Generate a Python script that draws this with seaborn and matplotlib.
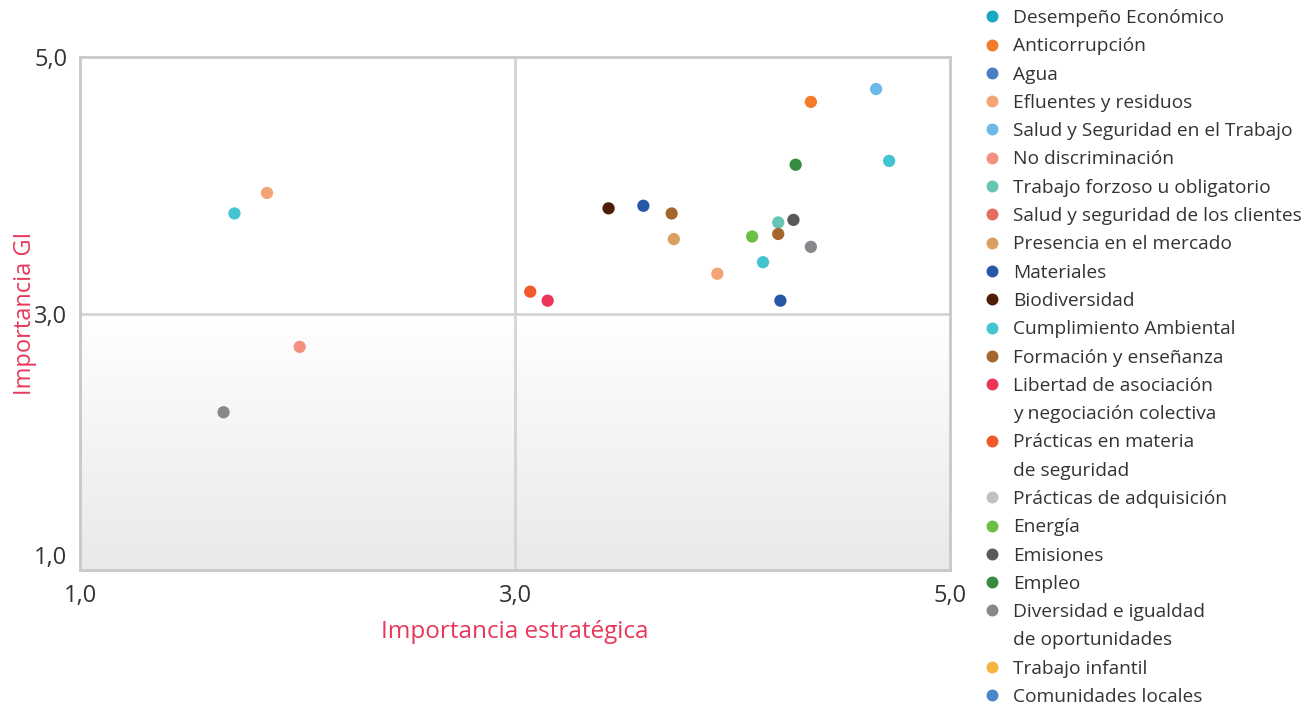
import numpy as np
import pandas as pd
import seaborn as sns
import matplotlib.pyplot as plt
from matplotlib.lines import Line2D
from matplotlib.colors import LinearSegmentedColormap

# Temas GRI (orden de la leyenda) y sus colores
temas = [
    'Desempeño Económico', 'Anticorrupción', 'Agua', 'Efluentes y residuos',
    'Salud y Seguridad en el Trabajo', 'No discriminación',
    'Trabajo forzoso u obligatorio', 'Salud y seguridad de los clientes',
    'Presencia en el mercado', 'Materiales', 'Biodiversidad',
    'Cumplimiento Ambiental', 'Formación y enseñanza',
    'Libertad de asociación\ny negociación colectiva',
    'Prácticas en materia\nde seguridad', 'Prácticas de adquisición',
    'Energía', 'Emisiones', 'Empleo',
    'Diversidad e igualdad\nde oportunidades', 'Trabajo infantil',
    'Comunidades locales',
]
colores = [
    '#17a9c0', '#f47b2a', '#4a7fc3', '#f4a473', '#6cb8e8', '#f49080',
    '#66c6b5', '#e56d5d', '#dc9f62', '#2857a8', '#4f1d05', '#43c4d0',
    '#a5662d', '#ee3559', '#f15a2b', '#c0c1c4', '#6bbf45', '#58595b',
    '#378b40', '#87888c', '#f6b440', '#4a86c8',
]

# Puntos: tema, importancia estrategica (x), importancia GI (y)
puntos_tema = [
    'Cumplimiento Ambiental', 'Efluentes y residuos', 'No discriminación',
    'Diversidad e igualdad\nde oportunidades',
    'Prácticas en materia\nde seguridad',
    'Libertad de asociación\ny negociación colectiva',
    'Biodiversidad', 'Materiales', 'Formación y enseñanza',
    'Presencia en el mercado', 'Efluentes y residuos', 'Energía',
    'Cumplimiento Ambiental', 'Trabajo forzoso u obligatorio',
    'Formación y enseñanza', 'Emisiones', 'Materiales', 'Empleo',
    'Diversidad e igualdad\nde oportunidades', 'Anticorrupción',
    'Salud y Seguridad en el Trabajo', 'Cumplimiento Ambiental',
]
puntos_x = [1.71, 1.86, 2.01, 1.66, 3.07, 3.15, 3.43, 3.59, 3.72, 3.73,
            3.93, 4.09, 4.14, 4.21, 4.21, 4.28, 4.22, 4.29, 4.36, 4.36,
            4.66, 4.72]
puntos_y = [3.78, 3.94, 2.74, 2.23, 3.17, 3.10, 3.82, 3.84, 3.78, 3.58,
            3.31, 3.60, 3.40, 3.71, 3.62, 3.73, 3.10, 4.16, 3.52, 4.65,
            4.75, 4.19]

df = pd.DataFrame({'tema': puntos_tema, 'x': puntos_x, 'y': puntos_y})
paleta = dict(zip(temas, colores))

sns.set_theme(style='white')
plt.rcParams['font.family'] = ['Open Sans', 'DejaVu Sans']

rojo = '#e8385a'
gris = '#c8c8c8'

fig = plt.figure(figsize=(13.09, 7.10), dpi=100)
ax = fig.add_axes([0.0611, 0.1972, 0.6647, 0.7225])

# degradado del fondo en la mitad inferior
grad = np.linspace(0, 1, 256).reshape(-1, 1)
cmap = LinearSegmentedColormap.from_list('fondo', ['#ffffff', '#e8e9eb'])
ax.imshow(grad, extent=(1, 5, 1, 3), aspect='auto', cmap=cmap, zorder=0)

ax.axvline(3, color='#d3d4d6', lw=2, zorder=1)
ax.axhline(3, color='#d3d4d6', lw=2, zorder=1)

sns.scatterplot(data=df, x='x', y='y', hue='tema', palette=paleta,
                s=78, edgecolor='none', legend=False, ax=ax, zorder=3)

ax.set_xlim(1, 5)
ax.set_ylim(1, 5)
ax.set_xticks([1, 3, 5])
ax.set_yticks([1, 3, 5])
ax.set_xticklabels(['1,0', '3,0', '5,0'])
ax.set_yticklabels(['1,0', '3,0', '5,0'])
ax.tick_params(axis='both', length=0, labelsize=17, labelcolor='#333333')
ax.tick_params(axis='x', pad=10)
ax.tick_params(axis='y', pad=9)
ax.get_yticklabels()[0].set_va('bottom')
for s in ax.spines.values():
    s.set_color(gris)
    s.set_linewidth(2)
    s.set_visible(True)

ax.set_xlabel('Importancia estratégica', color=rojo, fontsize=17.5, labelpad=9)
ax.set_ylabel('Importancia GI', color=rojo, fontsize=17, labelpad=-2)

# leyenda: el marcador va con la primera linea de cada tema
handles, labels = [], []
for tema, color in zip(temas, colores):
    lineas = tema.split('\n')
    handles.append(Line2D([], [], marker='o', linestyle='', markersize=8.6,
                          markerfacecolor=color, markeredgecolor='none'))
    labels.append(lineas[0])
    for extra in lineas[1:]:
        handles.append(Line2D([], [], linestyle='', marker=''))
        labels.append(extra)

fig.legend(handles, labels, loc='upper left', bbox_to_anchor=(0.7505, 0.99),
           frameon=False, fontsize=13.8, labelspacing=0.537, handlelength=0.8,
           handletextpad=0.7, borderaxespad=0, borderpad=0.1,
           labelcolor='#333333')

fig.savefig('out.png', dpi=100)
